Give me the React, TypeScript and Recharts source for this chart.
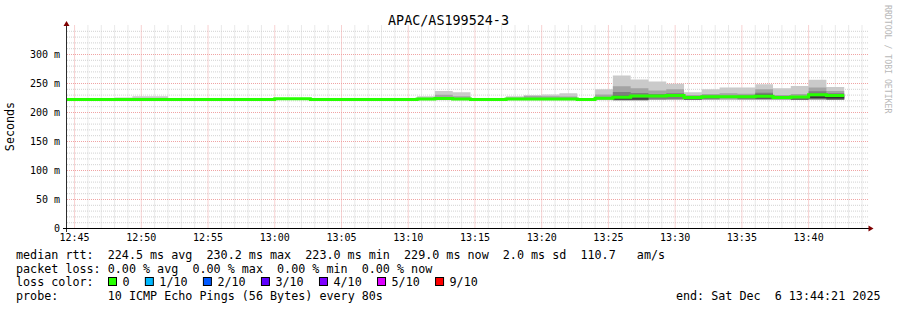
import React from "react";
import { ComposedChart, Area, Line, XAxis, YAxis, CartesianGrid } from "recharts";

// ---------- data ----------
// start of each 80 s step (clock time)
const stepStarts = [
  "12:44:00", "12:45:20", "12:46:40", "12:48:00", "12:49:20", "12:50:40", "12:52:00", "12:53:20",
  "12:54:40", "12:56:00", "12:57:20", "12:58:40", "13:00:00", "13:01:20", "13:02:40", "13:04:00",
  "13:05:20", "13:06:40", "13:08:00", "13:09:20", "13:10:40", "13:12:00", "13:13:20", "13:14:40",
  "13:16:00", "13:17:20", "13:18:40", "13:20:00", "13:21:20", "13:22:40", "13:24:00", "13:25:20",
  "13:26:40", "13:28:00", "13:29:20", "13:30:40", "13:32:00", "13:33:20", "13:34:40", "13:36:00",
  "13:37:20", "13:38:40", "13:40:00", "13:41:20",
];
const lastStepEnd = "13:42:40";

// median rtt (ms) per step
const median = [
  222.5, 222.5, 222.5, 222.5, 222.5, 222.5, 222.5, 222.5, 222.5, 222.5,
  222.5, 222.5, 223.5, 223.5, 222.5, 222.5, 222.5, 222.5, 222.5, 222.5,
  223.2, 224.0, 223.4, 222.5, 222.5, 223.4, 223.4, 223.4, 223.4, 222.3,
  224.7, 226.3, 228.3, 228.6, 229.2, 226.0, 227.3, 227.3, 227.0, 228.2,
  225.9, 226.6, 230.6, 229.2,
];

type Pair = [number, number];
const none: Pair = [222.5, 222.5];

// smoke bands (ping spread), outermost first
const smoke1: Pair[] = [
  none, none, none, [221.5, 226], [221.5, 228], [221.5, 228], none, none, none, none,
  none, none, none, none, none, none, none, none, none, none,
  [221, 228], [221, 237], [221, 235], none, none, [221, 228], [221, 230], [221, 231], [221, 233], none,
  [221, 240], [220, 264], [220, 257], [222, 253.6], [222, 249.5], [221.5, 234.7], [222, 240], [222, 243], [222, 243], [222, 248.5],
  [221.5, 242], [221.5, 245.5], [222, 256.5], [222, 244],
];
const smoke2: Pair[] = [
  none, none, none, none, none, none, none, none, none, none,
  none, none, none, none, none, none, none, none, none, none,
  [222, 225.5], [222, 230.5], [222, 228], none, none, [222, 226], [222, 228.5], [222, 228], [222, 227.5], none,
  [222, 231], [221, 245.3], [221, 242], [222.3, 238], [222.3, 240], [222, 230], [222.3, 232], [222.3, 233], [222.5, 232.5], [222.3, 240],
  [222, 230], [222, 232], [222.3, 243], [222.3, 237],
];
const smoke3: Pair[] = [
  none, none, none, none, none, none, none, none, none, none,
  none, none, none, none, none, none, none, none, none, none,
  none, none, none, none, none, none, none, none, none, none,
  none, [222, 235.3], [222, 233.5], [222.5, 232], [223, 233], none, [223, 229], none, [223, 229], [223, 234],
  none, none, [223, 236.5], [222.5, 233],
];
const smoke4: Pair[] = [
  none, none, none, none, none, none, none, none, none, none,
  none, none, none, none, none, none, none, none, none, none,
  none, none, none, none, none, none, none, none, none, none,
  none, [222.6, 229], [222.6, 227], none, none, none, none, none, none, [223.5, 231],
  none, none, [224, 232], [222.6, 231],
];
const smoke5: Pair[] = [
  none, none, none, none, none, none, none, none, none, none,
  none, none, none, none, none, none, none, none, none, none,
  none, none, none, none, none, none, none, none, none, none,
  none, [222.6, 224.5], [222.6, 224], none, none, [222.5, 224.5], none, none, none, none,
  none, [222.5, 224.3], [225.2, 227.5], [224.5, 227.5],
];
const smokeColors = ["#cacaca", "#a4a4a4", "#7e7e7e", "#585858", "#323232"];

const xTickLabels = ["12:45", "12:50", "12:55", "13:00", "13:05", "13:10", "13:15", "13:20", "13:25", "13:30", "13:35", "13:40"];
const yTickValues = [0, 50, 100, 150, 200, 250, 300];
const yTickLabels = ["0", "50 m", "100 m", "150 m", "200 m", "250 m", "300 m"];

const title = "APAC/AS199524-3";
const legendLine1 = "median rtt:  224.5 ms avg  230.2 ms max  223.0 ms min  229.0 ms now  2.0 ms sd  110.7   am/s";
const legendLine2 = "packet loss: 0.00 % avg  0.00 % max  0.00 % min  0.00 % now";
const lossLabels = ["0", "1/10", "2/10", "3/10", "4/10", "5/10", "9/10"];
const lossColors = ["#26ff00", "#00b8ff", "#0059ff", "#5e00ff", "#7e00ff", "#dd00ff", "#ff0000"];
const probeText = "10 ICMP Echo Pings (56 Bytes) every 80s";
const endText = "end: Sat Dec  6 13:44:21 2025";

// ---------- helpers ----------
const ORIGIN = 12 * 3600 + 45 * 60;
const toSec = (clock: string) => {
  const [h, m, s] = clock.split(":").map(Number);
  return h * 3600 + m * 60 + (s || 0) - ORIGIN;
};

const times = [...stepStarts, lastStepEnd];
const rows = times.map((c, i) => {
  const j = Math.min(i, median.length - 1);
  return {
    t: toSec(c),
    median: median[j],
    s1: smoke1[j],
    s2: smoke2[j],
    s3: smoke3[j],
    s4: smoke4[j],
    s5: smoke5[j],
  };
});

const xTickSecs = xTickLabels.map((l) => toSec(l));
const minorX: number[] = [];
const majorX: number[] = [];
for (let s = 0; s <= 3540; s += 60) (s % 300 === 0 ? majorX : minorX).push(s);
const minorY: number[] = [];
const majorY: number[] = [];
for (let v = 10; v <= 340; v += 10) (v % 50 === 0 ? (v <= 300 ? majorY : minorY) : minorY).push(v);

const W = 897;
const H = 310;
const L = 67, R = 868, T = 25.5, B = 228.5;
const MONO = "'DejaVu Sans Mono', monospace";
const CH = 7.06;
const PRE: React.CSSProperties = { whiteSpace: "pre" };

export default function App() {
  const boxes: { x: number; label: string; color: string }[] = [];
  let bx = 108;
  lossLabels.forEach((lab, i) => {
    boxes.push({ x: bx, label: lab, color: lossColors[i] });
    bx += 15.7 + lab.length * CH + 14.1;
  });

  return (
    <div style={{ position: "absolute", left: 0, top: 0, width: W, height: H, background: "#fff" }}>
      <ComposedChart
        width={W}
        height={H}
        data={rows}
        margin={{ top: T, right: W - R, left: 7, bottom: H - B - 20 }}
      >
        <CartesianGrid
          stroke="#d2d2d2"
          strokeDasharray="1 1"
          horizontalValues={minorY}
          verticalValues={minorX}
          fill="none"
        />
        <CartesianGrid
          stroke="#f0a4a4"
          strokeDasharray="1 1"
          horizontalValues={majorY}
          verticalValues={majorX}
          fill="none"
        />
        <XAxis
          dataKey="t"
          type="number"
          domain={[-34, 3567]}
          allowDataOverflow
          ticks={xTickSecs}
          interval={0}
          tickFormatter={(v: number) => xTickLabels[xTickSecs.indexOf(v)] ?? ""}
          axisLine={false}
          tickLine={false}
          tickSize={0}
          tickMargin={5}
          height={20}
          tick={{ fontFamily: MONO, fontSize: 10, fill: "#000" }}
        />
        <YAxis
          type="number"
          domain={[0, 350]}
          allowDataOverflow
          ticks={yTickValues}
          interval={0}
          tickFormatter={(v: number) => yTickLabels[yTickValues.indexOf(v)] ?? ""}
          axisLine={false}
          tickLine={false}
          tickSize={0}
          tickMargin={7}
          width={60}
          tick={{ fontFamily: MONO, fontSize: 10, fill: "#000" }}
        />
        {["s1", "s2", "s3", "s4", "s5"].map((k, i) => (
          <Area
            key={k}
            dataKey={k}
            type="stepAfter"
            fill={smokeColors[i]}
            fillOpacity={1}
            stroke="none"
            isAnimationActive={false}
            activeDot={false}
            dot={false}
          />
        ))}
        <Line
          dataKey="median"
          type="stepAfter"
          stroke="#26ff00"
          strokeWidth={3}
          dot={false}
          activeDot={false}
          isAnimationActive={false}
        />
      </ComposedChart>
      <svg
        width={W}
        height={H}
        style={{ position: "absolute", left: 0, top: 0, pointerEvents: "none" }}
      >
        {/* axes */}
        <line x1={L - 0.5} y1={B + 3.5} x2={L - 0.5} y2={T - 2} stroke="#2c2c2c" strokeWidth={1} />
        <line x1={L - 4} y1={B} x2={R + 2} y2={B} stroke="#000" strokeWidth={1} />
        <polygon points={`${L - 3.5},${T + 0.5} ${L - 0.5},${T - 4.5} ${L + 2.5},${T + 0.5}`} fill="#7f0000" />
        <polygon points={`${R + 0.5},${B - 3} ${R + 5.5},${B} ${R + 0.5},${B + 3}`} fill="#7f0000" />
        {/* title */}
        <text x={448.5} y={24.5} textAnchor="middle" fontFamily={MONO} fontSize={13.4} fill="#000">
          {title}
        </text>
        {/* y label */}
        <text
          x={13.5}
          y={126.5}
          transform="rotate(-90 13.5 126.5)"
          textAnchor="middle"
          fontFamily={MONO}
          fontSize={11.7}
          fill="#000"
        >
          Seconds
        </text>
        {/* watermark */}
        <text
          x={885}
          y={5}
          transform="rotate(90 885 5)"
          fontFamily={MONO}
          fontSize={8.2}
          fill="#b8b8b8"
        >
          RRDTOOL / TOBI OETIKER
        </text>
        {/* legend */}
        <g fontFamily={MONO} fontSize={11.73} fill="#000">
          <text x={16} y={258.5} xmlSpace="preserve" style={PRE}>{legendLine1}</text>
          <text x={16} y={272.5} xmlSpace="preserve" style={PRE}>{legendLine2}</text>
          <text x={16} y={286} style={PRE}>loss color:</text>
          {boxes.map((b) => (
            <g key={b.label}>
              <rect x={b.x + 0.5} y={277.5} width={8} height={8} fill={b.color} stroke="#000" strokeWidth={1} />
              <text x={b.x + 14.5} y={286}>{b.label}</text>
            </g>
          ))}
          <text x={16} y={300}>probe:</text>
          <text x={16 + 13 * CH} y={300} xmlSpace="preserve" style={PRE}>{probeText}</text>
          <text x={880.5} y={300} textAnchor="end" xmlSpace="preserve" style={PRE}>{endText}</text>
        </g>
      </svg>
    </div>
  );
}
